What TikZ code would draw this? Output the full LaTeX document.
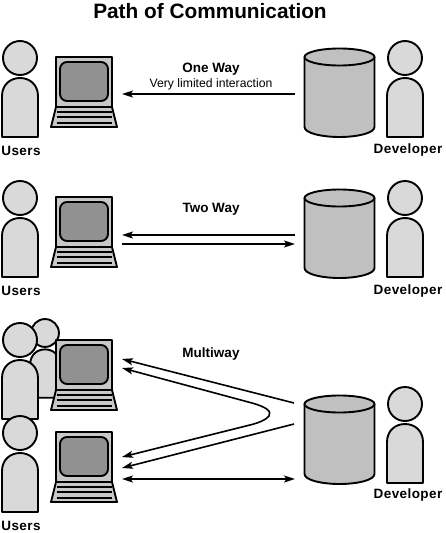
\documentclass[tikz,border=0pt]{standalone}
\usepackage{fontspec}
\setmainfont{Liberation Sans}
\usetikzlibrary{arrows.meta}
\definecolor{skingray}{RGB}{217,217,217}
\definecolor{casegray}{RGB}{200,200,200}
\definecolor{screengray}{RGB}{145,145,145}
\definecolor{drumgray}{RGB}{192,192,192}
\tikzset{
  outline/.style={draw=black,line width=1.9pt,line join=round},
  flow/.style={line width=1.6pt,-{Stealth[length=11pt,width=7pt,inset=2.5pt]}},
  twoflow/.style={line width=1.6pt,{Stealth[length=11pt,width=7pt,inset=2.5pt]}-{Stealth[length=11pt,width=7pt,inset=2.5pt]}},
  heading/.style={font=\bfseries\fontsize{20.8}{24}\selectfont},
  caption/.style={font=\bfseries\fontsize{13.5}{16}\selectfont},
  who/.style={inner sep=0pt,font=\bfseries\fontsize{13.5}{16}\selectfont\addfontfeature{LetterSpace=3}},
  person/.pic={
    \draw[outline,fill=skingray] (-18,79) -- (-18,38) .. controls (-18,27) and (-10,20) .. (0,20) .. controls (10,20) and (18,27) .. (18,38) -- (18,79) -- cycle;
    \draw[outline,fill=skingray] (0,0) circle[radius=17];
  },
  laptop/.pic={
    \draw[outline,fill=casegray] (5,50) -- (1,66) -- (0,70) -- (66,70) -- (65,66) -- (61,50) -- cycle;
    \draw[outline,line width=2.2pt] (0,70) -- (66,70);
    \draw[outline,fill=casegray] (5,0) rectangle (61,50);
    \draw[outline,fill=screengray,rounded corners=7pt] (9,5) rectangle (57,44);
    \foreach \ky in {55,60,66} {\draw[line width=1.3pt] (5.5,\ky) -- (60.5,\ky);}
  },
  drum/.pic={
    \draw[outline,fill=drumgray] (0,0) -- (0,70) .. controls (0,76) and (17,80) .. (35,80) .. controls (53,80) and (70,76) .. (70,70) -- (70,0) -- cycle;
    \draw[outline,fill=drumgray] (35,0) ellipse[x radius=35,y radius=8.5];
  }
}
\begin{document}
\begin{tikzpicture}[x=1pt,y=-1pt]
  \useasboundingbox (0,0) rectangle (445,533);
  \node[heading] (title) at (210,11) {Path of Communication};
  % one way
  \pic at (20,58) {person};
  \pic at (51,57) {laptop};
  \pic at (304.5,57) {drum};
  \pic at (405,58) {person};
  \node[who] (users1) at (21,150.5) {Users};
  \node[who] (dev1) at (408,150.5) {Developer};
  \node[caption] (oneway) at (211,69) {One Way};
  \node[font=\fontsize{12.2}{14}\selectfont] (limited) at (211,84) {Very limited interaction};
  \coordinate (dbone) at (295,94);
  \coordinate (pcone) at (122,94);
  \draw[flow] (dbone) -- (pcone);
  % two way
  \pic at (20,198) {person};
  \pic at (51,197) {laptop};
  \pic at (304.5,198) {drum};
  \pic at (405,198) {person};
  \node[who] (users2) at (21,291) {Users};
  \node[who] (dev2) at (408,291) {Developer};
  \node[caption] (twoway) at (211,209) {Two Way};
  \coordinate (dbtwoa) at (295,235);
  \coordinate (pctwoa) at (122,235);
  \coordinate (dbtwob) at (295,244);
  \coordinate (pctwob) at (122,244);
  \draw[flow] (dbtwoa) -- (pctwoa);
  \draw[flow] (pctwob) -- (dbtwob);
  % multiway
  \pic[scale=0.82] at (45,333) {person};
  \pic at (51,340) {laptop};
  \pic at (20,340) {person};
  \pic at (51,432) {laptop};
  \pic at (20,433) {person};
  \pic at (304.5,404) {drum};
  \pic at (405,404) {person};
  \node[who] (users3) at (21,526) {Users};
  \node[who] (dev3) at (408,495.5) {Developer};
  \node[caption] (multiway) at (211,354) {Multiway};
  \coordinate (dbthreea) at (294,403);
  \coordinate (pcthreea) at (122,359);
  \coordinate (pcthreeb) at (122,368);
  \coordinate (pcthreec) at (122,457);
  \coordinate (dbthreed) at (294,424);
  \coordinate (pcthreed) at (122,468);
  \coordinate (dbthreee) at (295,479);
  \coordinate (pcthreee) at (122,479);
  \draw[flow] (dbthreea) -- (pcthreea);
  \draw[twoflow] (pcthreeb) -- (252,403) .. controls (266,407) and (272,411) .. (269,416) .. controls (266,420) and (258,423) .. (250,425) -- (pcthreec);
  \draw[flow] (dbthreed) -- (pcthreed);
  \draw[twoflow] (pcthreee) -- (dbthreee);
\end{tikzpicture}
\end{document}
